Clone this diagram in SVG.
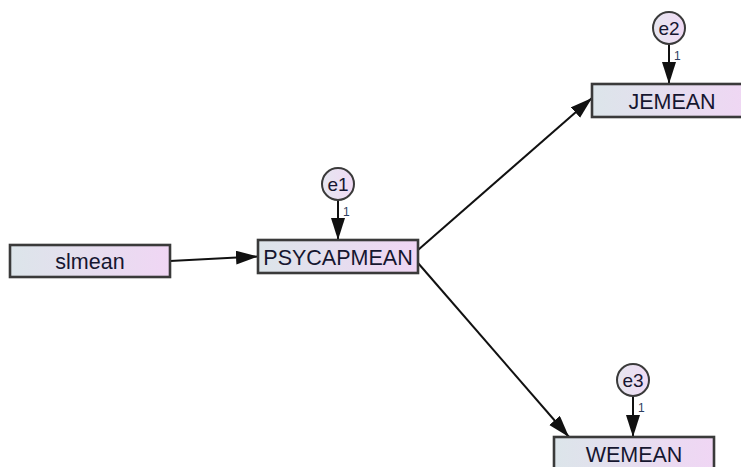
<svg xmlns="http://www.w3.org/2000/svg" width="741" height="467" viewBox="0 0 741 467">
<style>
.box{fill:url(#gb);stroke:#3a3a3a;stroke-width:2.6}
.circ{fill:url(#gc);stroke:#3a3a3a;stroke-width:2}
.lbl{font-family:"Liberation Sans",Arial,sans-serif;font-size:21.5px;fill:#161630;text-anchor:middle}
.elbl{font-family:"Liberation Sans",Arial,sans-serif;font-size:19px;fill:#161630;text-anchor:middle}
.one{font-family:"Liberation Sans",Arial,sans-serif;font-size:12px;fill:#2e3e60}
.con{stroke:#111;stroke-width:2;fill:none;marker-end:url(#ah)}
</style>
<defs>
<linearGradient id="gb" x1="0" y1="0" x2="1" y2="0">
<stop offset="0" stop-color="#dce5ea"/>
<stop offset="1" stop-color="#f0d6f4"/>
</linearGradient>
<linearGradient id="gc" x1="0" y1="0" x2="1" y2="0">
<stop offset="0" stop-color="#e6e6f0"/>
<stop offset="1" stop-color="#f0daf4"/>
</linearGradient>
<marker id="ah" markerUnits="userSpaceOnUse" markerWidth="24" markerHeight="16" refX="22" refY="7" orient="auto">
<path d="M0,0 L22,7 L0,14 z" fill="#111"/>
</marker>
</defs>
<rect width="741" height="467" fill="#fff"/>
<g id="connectors">
<line class="con" x1="170" y1="261" x2="258" y2="256.5"/>
<line class="con" x1="418" y1="250" x2="592" y2="98"/>
<line class="con" x1="418" y1="263" x2="569" y2="437"/>
<line class="con" x1="338" y1="200" x2="338" y2="240"/>
<line class="con" x1="669" y1="44" x2="669" y2="84"/>
<line class="con" x1="633" y1="396" x2="633" y2="437"/>
</g>
<g id="slmean">
<rect class="box" x="10" y="245" width="160" height="32"/>
<text class="lbl" x="90" y="268.5">slmean</text>
</g>
<g id="PSYCAPMEAN">
<rect class="box" x="258" y="240" width="160" height="33"/>
<text class="lbl" x="338" y="264.5">PSYCAPMEAN</text>
</g>
<g id="JEMEAN">
<rect class="box" x="592" y="84" width="160" height="33"/>
<text class="lbl" x="672" y="108.5">JEMEAN</text>
</g>
<g id="WEMEAN">
<rect class="box" x="554" y="437" width="160" height="33"/>
<text class="lbl" x="634" y="461.5">WEMEAN</text>
</g>
<g id="e1">
<circle class="circ" cx="338" cy="184" r="16"/>
<text class="elbl" x="338" y="190.5">e1</text>
<text class="one" x="343" y="216">1</text>
</g>
<g id="e2">
<circle class="circ" cx="669" cy="28" r="16"/>
<text class="elbl" x="669" y="34.5">e2</text>
<text class="one" x="674" y="60">1</text>
</g>
<g id="e3">
<circle class="circ" cx="633" cy="380" r="16"/>
<text class="elbl" x="633" y="386.5">e3</text>
<text class="one" x="638" y="412">1</text>
</g>
</svg>
